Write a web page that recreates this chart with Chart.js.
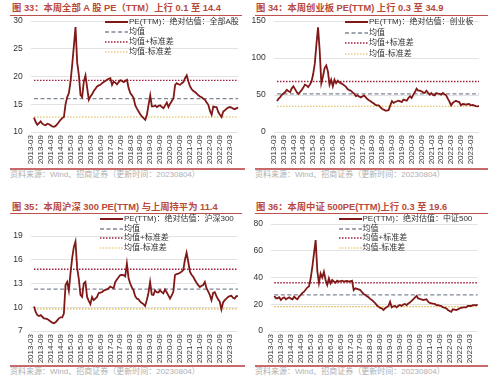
<!DOCTYPE html>
<html><head><meta charset="utf-8">
<script src="https://cdn.jsdelivr.net/npm/chart.js@4.4.0/dist/chart.umd.min.js"></script>
<style>
html,body{margin:0;padding:0;background:#fff;}
#wrap{position:relative;width:500px;height:386px;overflow:hidden;font-family:"Liberation Sans",Arial,"Noto Sans CJK SC",sans-serif;}
.title{position:absolute;font-size:9.3px;font-weight:bold;color:#b9493a;white-space:nowrap;line-height:12px;}
.rule{position:absolute;height:1px;background:#c0504d;}
.rule2{position:absolute;height:2px;background:#c86a6a;}
.src{position:absolute;font-size:8px;color:#b0b0b0;white-space:nowrap;line-height:10px;}
canvas{position:absolute;}
.leg{position:absolute;font-size:8px;color:#333;white-space:nowrap;line-height:10px;height:10px;display:flex;align-items:center;}
.leg svg{width:23px;height:10px;margin-right:1px;flex:none;}
</style></head>
<body><div id="wrap">
<div class="title" style="left:12px;top:2px">图 33：本周全部 A 股 PE（TTM）上行 0.1 至 14.4</div>
<div class="rule" style="left:10px;top:15px;width:232px"></div>
<div class="title" style="left:256px;top:2px">图 34：本周创业板 PE(TTM) 上行 0.3 至 34.9</div>
<div class="rule" style="left:255px;top:15px;width:233px"></div>
<div class="title" style="left:12px;top:201px">图 35：本周沪深 300 PE(TTM) 与上周持平为 11.4</div>
<div class="rule" style="left:10px;top:213px;width:232px"></div>
<div class="title" style="left:256px;top:201px">图 36：本周中证 500PE(TTM)上行 0.3 至 19.6</div>
<div class="rule" style="left:255px;top:213px;width:233px"></div>

<canvas id="c1" width="250" height="168" style="left:0;top:0"></canvas>
<canvas id="c2" width="250" height="168" style="left:250px;top:0"></canvas>
<canvas id="c3" width="250" height="165" style="left:0;top:200px"></canvas>
<canvas id="c4" width="250" height="165" style="left:250px;top:200px"></canvas>

<div class="rule2" style="left:10px;top:168px;width:235px"></div>
<div class="rule2" style="left:255px;top:168px;width:233px"></div>
<div class="rule2" style="left:10px;top:365px;width:235px"></div>
<div class="rule2" style="left:255px;top:365px;width:233px"></div>
<div class="src" style="left:10px;top:170px">资料来源：Wind、招商证券（更新时间：20230804）</div>
<div class="src" style="left:255px;top:170px">资料来源：Wind、招商证券（更新时间：20230804）</div>
<div class="src" style="left:10px;top:367px">资料来源：Wind、招商证券（更新时间：20230804）</div>
<div class="src" style="left:255px;top:367px">资料来源：Wind、招商证券（更新时间：20230804）</div>
<div id="legends"></div>
</div>
<script>
// ---- categories (monthly, 2013-03 .. 2023-08) ----
const months = [];
for (let y = 2013; y <= 2023; y++) {
  for (let m = 1; m <= 12; m++) {
    if ((y === 2013 && m < 3) || (y === 2023 && m > 8)) continue;
    months.push(y + '-' + (m < 10 ? '0' + m : '' + m));
  }
}
// ---- tick labels shown on the x axis ----
const tickLabels = ['2013-03','2013-09','2014-03','2014-09','2015-03','2015-09','2016-03','2016-09',
  '2017-03','2017-09','2018-03','2018-09','2019-03','2019-09','2020-03','2020-09','2021-03','2021-09',
  '2022-03','2022-09','2023-03'];

// ---- series values ----
const peAllA = [null,null,12.6,11.8,11.3,11.6,11.9,11.5,11.3,11.2,11.5,11.4,11.2,11.0,10.95,11.1,11.4,11.8,12.2,12.5,
  12.7,15.0,16.3,17.0,19.1,22.1,25.5,28.9,22.5,20.3,16.7,16.3,19.1,20.2,18.0,15.8,16.4,16.8,17.4,17.8,
  18.2,18.4,18.5,18.8,19.0,19.2,19.4,19.6,19.7,18.5,19.1,18.9,18.6,19.0,19.3,19.2,19.0,19.2,19.4,17.9,
  17.0,16.6,16.1,14.8,14.2,13.7,13.2,12.8,12.5,12.2,13.1,14.9,16.6,14.6,14.6,14.8,14.5,14.7,14.8,14.5,
  14.3,14.8,15.3,14.5,15.1,15.6,16.1,18.5,18.8,18.6,18.5,18.8,19.0,19.7,20.2,19.1,18.2,17.7,17.4,17.2,
  16.9,16.6,16.4,16.25,16.0,15.8,15.3,14.9,13.8,13.1,14.6,14.5,14.5,13.6,13.1,12.7,13.7,13.9,14.2,14.4,
  14.5,14.4,14.2,14.1,14.3,14.4];
const peChiNext = [null,null,42,45,47,50.5,52,54,57,55,54,59,61.7,58,54,51.4,54,56.5,60,64,
  63,60.6,64,68,78,92,118,141.5,110,66,75,86.5,90,82,64,70.7,61.7,70.7,66,69.4,
  67,66,64.5,63,61,58,56.5,55.8,53.5,52,48.5,49.5,48,46.8,48,49.5,47,44.5,43,41.6,
  40,38.5,36.5,36,36,33.4,31.5,30.2,29,28.8,29.7,36,41.6,39.3,40.5,41.6,42.3,41.5,40.5,43.8,
  43,42.3,46,48.2,46,50.5,54,58.5,56,55.8,55,53.5,52.7,55.8,53,50.5,52.7,50,49.5,52.7,
  52,51.4,50.5,52.7,51,49.5,45,41,36,39.3,41,42.3,41,40.5,36,37.8,37.5,36.9,37.5,37.8,
  36,36.5,36,35,34.6,34.9];
const peHS300 = [null,null,10.1,9.4,9.0,8.9,9.0,8.8,8.6,8.55,8.5,8.35,8.2,8.05,7.97,8.1,8.35,8.6,8.73,8.73,
  9.2,12.8,13.2,12.1,14.3,16.2,17.6,18.3,15.0,13.6,11.55,11.3,13.0,13.2,11.3,10.8,10.4,11.3,10.9,11.1,
  11.3,11.8,11.85,11.9,12.1,12.2,12.25,12.4,12.6,12.5,12.4,13.2,13.5,13.8,14.07,14.1,14.07,13.9,15.5,13.7,
  13.0,12.5,12.15,11.4,11.1,11.0,10.7,10.55,10.4,10.16,10.9,11.8,13.2,11.6,11.55,12.15,11.9,11.85,12.15,11.9,
  11.75,12.25,11.9,11.5,11.1,11.5,11.95,14.07,14.2,14.25,14.35,14.5,14.7,16.0,16.9,15.75,14.5,14.1,13.85,13.45,
  13.1,12.8,12.55,12.7,12.8,13.2,12.4,12.0,11.55,10.9,11.8,11.9,11.4,11.0,10.7,9.73,10.6,10.9,11.1,11.3,
  11.4,11.45,11.2,11.1,11.4,11.4];
const peCSI500 = [null,null,26.2,24.5,24.5,25.2,23.2,24.5,25.2,23.7,24.5,25.2,24.2,23.7,25.7,24.5,23.7,25.7,27.0,28.5,
  29.4,31.0,32.5,33.5,39.4,48,58,68,45,36,43,40,44.3,38.1,34.4,39.4,35.6,38.1,37,36.1,
  37.6,36.9,37.2,37.6,36.9,37.2,37.4,36.9,37.2,37.6,30.6,31.9,31.5,31.1,30.6,29,27.7,26.9,26,25.2,
  24,23.2,21.9,20.8,19.2,18.2,17.3,16.9,15.7,17.0,17.7,18.7,21.9,17.7,18.5,18.7,17.7,18.8,19.4,18.7,
  19.8,20.2,19.4,20.5,21.2,22.5,23.7,25,26.2,24.4,24,23.7,23.2,23.5,23.7,21.9,21,20.7,20.4,20.2,
  19.4,19.4,19.0,18.7,17.7,17.5,16.9,15.7,15.0,14.4,16.2,16.0,15.7,16.2,16.9,17.2,17.7,17.7,17.7,18.7,
  18.7,18.7,19.4,19.3,19.4,19.6];

// ---- reference levels: mean, mean+std, mean-std ----
const statAllA    = [16.0, 19.3, 12.7];
const statChiNext = [51.5, 68.3, 34.8];
const statHS300   = [12.3, 14.8, 9.8];
const statCSI500  = [27.0, 36.1, 18.2];

// ---- y axis ticks ----
const yAllA = [10, 30, 5];
const yChiNext = [0, 150, 50];
const yHS300 = [7, 19, 3];
const yCSI500 = [0, 80, 20];

const legendNames = {
  c1: 'PE(TTM)：绝对估值：全部A股',
  c2: 'PE(TTM)：绝对估值：创业板',
  c3: 'PE(TTM)：绝对估值：沪深300',
  c4: 'PE(TTM)：绝对估值：中证500'
};

const STY = {
  main: {color:'#801818', width:1.8, dash:[]},
  mean: {color:'#808896', width:1.3, dash:[4,2.5]},
  up:   {color:'#a0203c', width:1.4, dash:[1.5,1.5]},
  lo:   {color:'#d9b548', width:1.2, dash:[1.5,1.5]}
};

function level(values, v) { return values.map(x => x === null ? null : v); }

function build(id, values, stat, yr, lay) {
  const ds = (data, s) => ({data, borderColor:s.color, borderWidth:s.width, borderDash:s.dash,
    pointRadius:0, pointHoverRadius:0, tension:0, fill:false});
  new Chart(document.getElementById(id), {
    type:'line',
    data:{labels:months, datasets:[
      ds(values, STY.main),
      ds(level(values, stat[0]), STY.mean),
      ds(level(values, stat[1]), STY.up),
      ds(level(values, stat[2]), STY.lo)
    ]},
    options:{
      responsive:false, animation:false, devicePixelRatio:1,
      layout:{padding:{top:lay.top, left:0, right:lay.right, bottom:0}, autoPadding:false},
      plugins:{legend:{display:false}, tooltip:{enabled:false}},
      scales:{
        x:{type:'category', offset:false,
          grid:{display:false, drawTicks:false}, border:{display:false},
          ticks:{autoSkip:false, minRotation:90, maxRotation:90, padding:3, color:'#333',
            font:{size:8, family:'Liberation Sans'},
            callback:function(v, i){ const l = months[i]; return tickLabels.includes(l) ? l : ''; }},
          afterFit:s => { s.height = lay.xh; s.paddingLeft = 0; s.paddingRight = 0; }},
        y:{min:yr[0], max:yr[1],
          grid:{color:'#dcdcdc', lineWidth:0.8, drawTicks:false}, border:{display:false},
          ticks:{stepSize:yr[2], padding:8, color:'#333', font:{size:8.5, family:'Liberation Sans'}},
          afterFit:s => { s.width = lay.yw; s.paddingTop = 0; s.paddingBottom = 0; }}
      }
    }
  });
}

build('c1', peAllA, statAllA, yAllA, {top:21, right:11.8, xh:36, yw:30.7});
build('c2', peChiNext, statChiNext, yChiNext, {top:21, right:21, xh:36, yw:23.7});
build('c3', peHS300, statHS300, yHS300, {top:36, right:12, xh:34, yw:30.7});
build('c4', peCSI500, statCSI500, yCSI500, {top:24, right:22.3, xh:34, yw:21});

// ---- legends (HTML) ----
const legPos = {
  c1: {x:105, ys:[21.7, 31.7, 42.3, 52.3]},
  c2: {x:345, ys:[21.7, 32.7, 43.3, 54.3]},
  c3: {x:100, ys:[219, 228.5, 238, 247.5]},
  c4: {x:338.5, ys:[219, 228.5, 238, 247.8]}
};
const legText = ['', '均值', '均值+标准差', '均值-标准差'];
const legSty = [STY.main, STY.mean, STY.up, STY.lo];
const host = document.getElementById('legends');
Object.keys(legPos).forEach(id => {
  const p = legPos[id];
  p.ys.forEach((y, k) => {
    const s = legSty[k];
    const d = document.createElement('div');
    d.className = 'leg';
    d.style.left = p.x + 'px';
    d.style.top = (y - 5) + 'px';
    const dash = s.dash.length ? ' stroke-dasharray="' + s.dash.join(',') + '"' : '';
    d.innerHTML = '<svg viewBox="0 0 23 10"><line x1="0" y1="5" x2="23" y2="5" stroke="' + s.color +
      '" stroke-width="' + (k === 0 ? 2 : s.width) + '"' + dash + '/></svg><span>' +
      (k === 0 ? legendNames[id] : legText[k]) + '</span>';
    host.appendChild(d);
  });
});
</script>
</body></html>
